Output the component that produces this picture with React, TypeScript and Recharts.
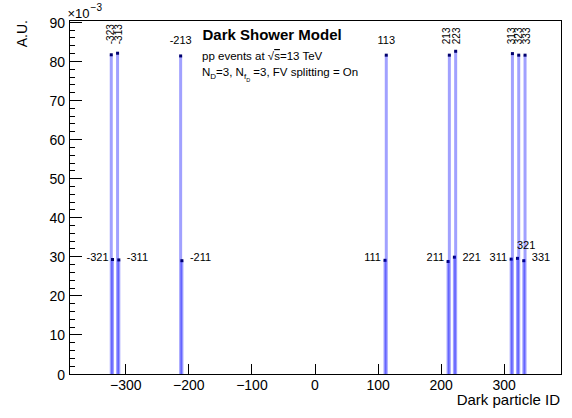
import { Bar, ComposedChart, ReferenceArea, ReferenceDot, XAxis, YAxis } from "recharts";

// Dark meson yields per particle ID, in units of 1e-3
const vectorIds = [-323, -313, -213, 113, 213, 223, 313, 323, 333];
const vectorYields = [81.7, 82.1, 81.4, 81.6, 81.6, 82.6, 82.0, 81.6, 81.6];
const pseudoscalarIds = [-321, -311, -211, 111, 211, 221, 311, 321, 331];
const pseudoscalarYields = [29.3, 29.2, 29.0, 29.1, 28.8, 29.9, 29.4, 29.6, 29.0];

const xTicks = [-300, -200, -100, 0, 100, 200, 300];
const yMajorTicks = [0, 10, 20, 30, 40, 50, 60, 70, 80, 90];

const X_MIN = -390;
const X_MAX = 390;
const Y_MAX = 90.6;
const FONT = '"Liberation Sans", Arial, Helvetica, sans-serif';

// five subdivisions per major division on the y axis
const yTicks = yMajorTicks.flatMap((v) => (v < 90 ? [v, v + 2, v + 4, v + 6, v + 8] : [v]));

const bins = [
  ...vectorIds.map((id, i) => ({ id, y: vectorYields[i] })),
  ...pseudoscalarIds.map((id, i) => ({ id, y: pseudoscalarYields[i] })),
].sort((a, b) => a.id - b.id);

type Side = "up" | "top" | "left" | "right" | "above";

// where each ID label sits relative to its bin
const labelSide: Record<number, Side> = {
  [-323]: "up",
  [-313]: "up",
  [-213]: "top",
  113: "top",
  213: "up",
  223: "up",
  313: "up",
  323: "up",
  333: "up",
  [-321]: "left",
  [-311]: "right",
  [-211]: "right",
  111: "left",
  211: "left",
  221: "right",
  311: "left",
  321: "above",
  331: "right",
};
// spread crowded vertical labels apart a little
const labelNudge: Record<number, number> = {
  [-323]: -1,
  [-313]: 0.5,
  213: -3,
  223: 0.5,
  313: -1,
  323: 0,
  333: 1,
};
const labelHeight: Record<Side, number> = { up: 84.4, top: 84.4, left: 30, right: 30, above: 32.1 };

function HistBin(props: any) {
  const { x, y, width, height } = props;
  const cx = x + width / 2;
  return (
    <g>
      <rect x={cx - 1.5} y={y} width={3} height={height} fill="#0000ff" fillOpacity={0.37} />
      <rect x={cx - 1.5} y={y - 1.5} width={3} height={3} fill="#00006e" />
    </g>
  );
}

function IdLabel(props: any) {
  const { viewBox, text, side, dx = 0 } = props;
  if (!viewBox) return null;
  const cx = viewBox.x + (viewBox.width || 0) / 2 + dx;
  const cy = viewBox.y + (viewBox.height || 0) / 2;
  const common = { fontFamily: FONT, fontSize: 11, fill: "#000" };
  if (side === "up") {
    return (
      <text
        {...common}
        fontSize={10}
        x={cx}
        y={cy}
        textAnchor="start"
        dominantBaseline="central"
        transform={`rotate(-90, ${cx}, ${cy})`}
      >
        {text}
      </text>
    );
  }
  if (side === "top") {
    return (
      <text {...common} x={cx} y={cy} textAnchor="middle">
        {text}
      </text>
    );
  }
  if (side === "above") {
    return (
      <text {...common} x={cx - 0.5} y={cy} textAnchor="start">
        {text}
      </text>
    );
  }
  return (
    <text
      {...common}
      x={side === "left" ? cx - 4 : cx + 8}
      y={cy}
      textAnchor={side === "left" ? "end" : "start"}
      dominantBaseline="central"
    >
      {text}
    </text>
  );
}

function XTick(props: any) {
  const { x, y, payload } = props;
  const v = payload.value as number;
  return (
    <g>
      <line x1={x} x2={x} y1={y} y2={y - 10} stroke="#000" shapeRendering="crispEdges" />
      <text x={x} y={y + 15.5} textAnchor="middle" fontFamily={FONT} fontSize={14} fill="#000">
        {v < 0 ? `\u2212${-v}` : v}
      </text>
    </g>
  );
}

function YTick(props: any) {
  const { x, y, payload } = props;
  const v = payload.value as number;
  const major = v % 10 === 0;
  return (
    <g>
      <line x1={x} x2={x + (major ? 13 : 6)} y1={y} y2={y} stroke="#000" shapeRendering="crispEdges" />
      {major && (
        <text x={x - 4} y={y + 5.5} textAnchor="end" fontFamily={FONT} fontSize={14} fill="#000">
          {v}
        </text>
      )}
    </g>
  );
}

export default function App() {
  return (
    <div style={{ position: "absolute", left: 0, top: 0, width: 572, height: 418, background: "#fff" }}>
      <ComposedChart
        width={572}
        height={418}
        data={bins}
        margin={{ top: 20, right: 11, left: 9, bottom: 14 }}
      >
        <XAxis
          type="number"
          dataKey="id"
          domain={[X_MIN, X_MAX]}
          allowDataOverflow
          ticks={xTicks}
          interval={0}
          height={30}
          axisLine={false}
          tickLine={false}
          tickSize={0}
          tickMargin={0}
          tick={<XTick />}
        />
        <YAxis
          type="number"
          domain={[0, Y_MAX]}
          allowDataOverflow
          ticks={yTicks}
          interval={0}
          width={60}
          axisLine={false}
          tickLine={false}
          tickSize={0}
          tickMargin={0}
          tick={<YTick />}
        />
        <Bar dataKey="y" isAnimationActive={false} shape={(p: any) => <HistBin {...p} />} />
        {bins.map((b) => {
          const side = labelSide[b.id];
          return (
            <ReferenceDot
              key={`lbl${b.id}`}
              x={b.id}
              y={labelHeight[side]}
              r={0}
              fill="none"
              stroke="none"
              label={<IdLabel text={String(b.id)} side={side} dx={labelNudge[b.id] ?? 0} />}
            />
          );
        })}
        <ReferenceArea
          x1={X_MIN}
          x2={X_MAX}
          y1={0}
          y2={Y_MAX}
          ifOverflow="visible"
          shape={(p: any) => (
            <rect
              x={p.x}
              y={p.y}
              width={p.width}
              height={p.height}
              fill="none"
              stroke="#000"
              shapeRendering="crispEdges"
            />
          )}
        />
      </ComposedChart>
      <svg
        width={572}
        height={418}
        style={{ position: "absolute", left: 0, top: 0, pointerEvents: "none" }}
        fontFamily={FONT}
      >
        <text x={67.5} y={18} fontSize={13}>
          {"\u00d710"}
          <tspan fontSize={10} dx={1} dy={-7}>
            {"\u22123"}
          </tspan>
        </text>
        <text x={26.5} y={20} fontSize={14} textAnchor="end" transform="rotate(-90, 26.5, 20)">
          A.U.
        </text>
        <text x={560} y={405} fontSize={15} textAnchor="end">
          Dark particle ID
        </text>
        <text x={202.5} y={40} fontSize={15} fontWeight="bold">
          Dark Shower Model
        </text>
        <text x={202} y={60} fontSize={11.5}>
          {"pp events at \u221a"}
          <tspan textDecoration="overline">s</tspan>
          {"=13 TeV"}
        </text>
        <text x={202} y={76} fontSize={11.5}>
          N
          <tspan fontSize={8} dy={3}>
            D
          </tspan>
          <tspan dy={-3}>=3, N</tspan>
          <tspan fontSize={8} dy={3}>
            f
          </tspan>
          <tspan fontSize={5.5} dy={3}>
            D
          </tspan>
          <tspan dy={-6}> =3, FV splitting = On</tspan>
        </text>
      </svg>
    </div>
  );
}
